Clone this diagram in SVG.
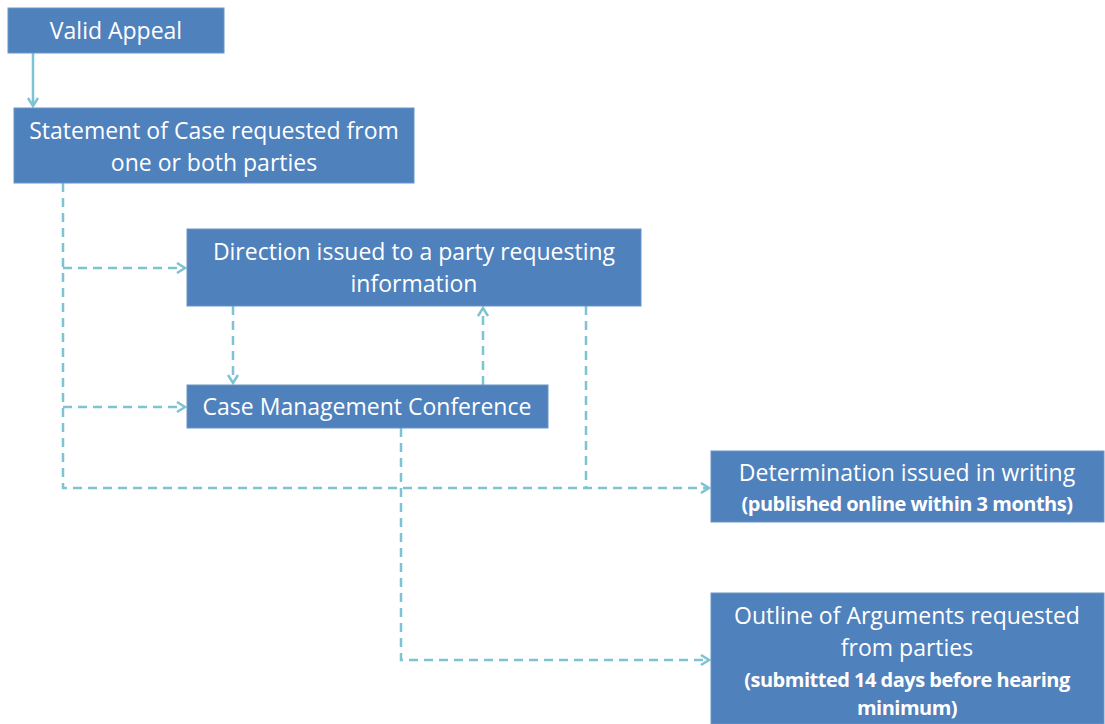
<svg xmlns="http://www.w3.org/2000/svg" width="1105" height="724" viewBox="0 0 1105 724">
<style>
.box{fill:#4f81bd;stroke:#6b95c8;stroke-width:1}
.t{fill:#ffffff;font-family:"Open Sans","Liberation Sans",sans-serif;font-size:23px;text-anchor:middle}
.s{fill:#ffffff;font-family:"Open Sans","Liberation Sans",sans-serif;font-size:20px;font-weight:bold;text-anchor:middle;letter-spacing:-0.5px}
.c{fill:none;stroke:#7fc3d3;stroke-width:2.5}
.d{stroke-dasharray:9 6}
</style>
<defs>
<marker id="ah" viewBox="0 0 12 12" refX="10" refY="6" markerWidth="12" markerHeight="12" markerUnits="userSpaceOnUse" orient="auto">
<path d="M2,1 L10,6 L2,11" fill="none" stroke="#7fc3d3" stroke-width="2.5"/>
</marker>
</defs>
<rect width="1105" height="724" fill="#ffffff"/>
<g id="connectors">
<line class="c" x1="33" y1="53" x2="33" y2="106" marker-end="url(#ah)"/>
<polyline class="c d" points="63,183 63,488 709,488" marker-end="url(#ah)"/>
<line class="c d" x1="63" y1="268" x2="185" y2="268" marker-end="url(#ah)"/>
<line class="c d" x1="63" y1="407" x2="185" y2="407" marker-end="url(#ah)"/>
<line class="c d" x1="233" y1="306" x2="233" y2="383" marker-end="url(#ah)"/>
<line class="c d" x1="483" y1="385" x2="483" y2="308" marker-end="url(#ah)"/>
<line class="c d" x1="586" y1="306" x2="586" y2="488"/>
<polyline class="c d" points="401,428 401,660 709,660" marker-end="url(#ah)"/>
</g>
<g id="valid-appeal">
<rect class="box" x="8" y="8" width="216" height="45"/>
<text class="t" x="116" y="39">Valid Appeal</text>
</g>
<g id="statement">
<rect class="box" x="14" y="108" width="400" height="75"/>
<text class="t" x="214" y="139">Statement of Case requested from</text>
<text class="t" x="214" y="171">one or both parties</text>
</g>
<g id="direction">
<rect class="box" x="187" y="229" width="454" height="77"/>
<text class="t" x="414" y="260">Direction issued to a party requesting</text>
<text class="t" x="414" y="292">information</text>
</g>
<g id="cmc">
<rect class="box" x="187" y="385" width="361" height="43"/>
<text class="t" x="367" y="415">Case Management Conference</text>
</g>
<g id="determination">
<rect class="box" x="711" y="451" width="393" height="71"/>
<text class="t" x="907" y="481">Determination issued in writing</text>
<text class="s" x="907" y="511">(published online within 3 months)</text>
</g>
<g id="outline">
<rect class="box" x="711" y="593" width="393" height="131"/>
<text class="t" x="907" y="624">Outline of Arguments requested</text>
<text class="t" x="907" y="656">from parties</text>
<text class="s" x="907" y="687">(submitted 14 days before hearing</text>
<text class="s" x="907" y="715">minimum)</text>
</g>
</svg>
